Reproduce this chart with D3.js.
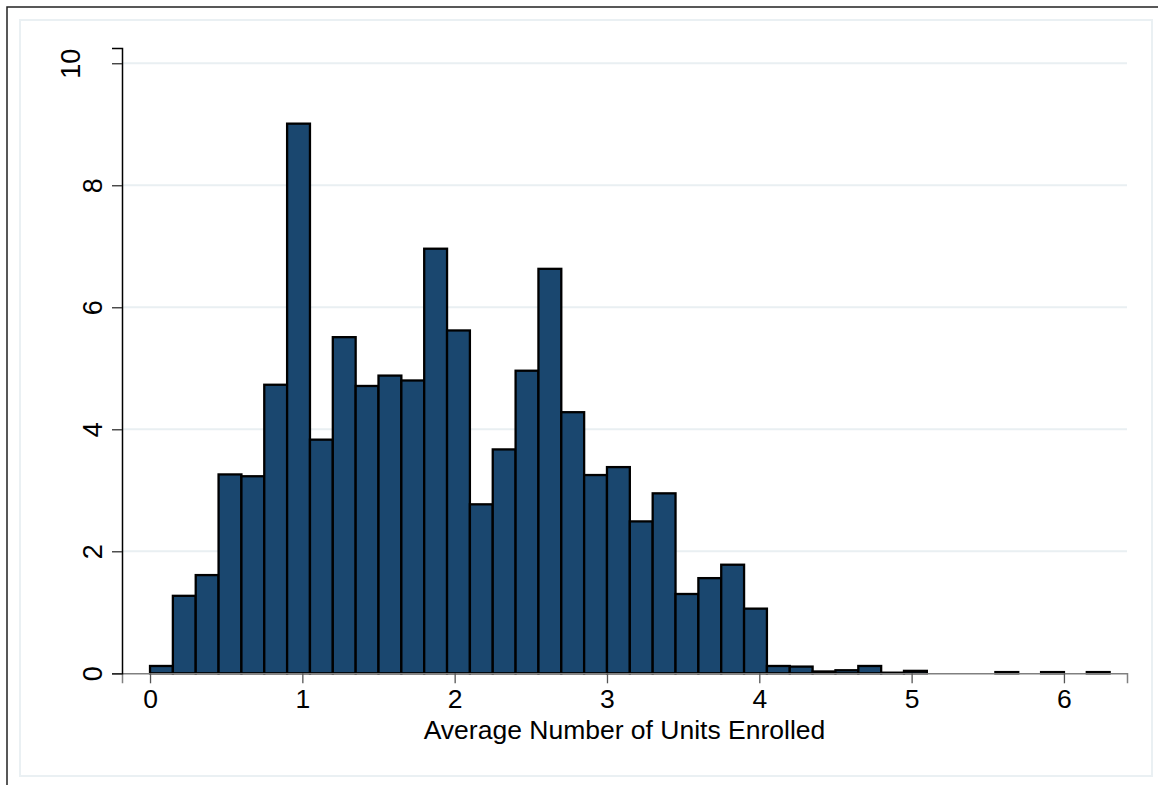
<!DOCTYPE html>
<html lang="en">
<head>
  <meta charset="UTF-8">
  <title>Average Number of Units Enrolled</title>
  <script src="https://cdn.jsdelivr.net/npm/d3@7"></script>
  <style>
    body { margin: 0; background: #fff; }
    text { font-family: "Liberation Sans", Arial, sans-serif; fill: #000; }
  </style>
</head>
<body>
  <div id="grafica"></div>

  <script>
    // histogram: bins of width 0.15 starting at 0, heights are densities
    binStart = 0
    binWidth = 0.15
    density = [
      0.12, 1.27, 1.61, 3.26, 3.23, 4.73, 9.01, 3.83, 5.51, 4.71,
      4.88, 4.80, 6.96, 5.62, 2.77, 3.67, 4.96, 6.63, 4.28, 3.25,
      3.38, 2.49, 2.95, 1.30, 1.56, 1.78, 1.06, 0.12, 0.11, 0.03,
      0.05, 0.12, 0.01, 0.04, 0, 0, 0, 0.02, 0, 0.02,
      0, 0.02
    ]
    xTicks = [0, 1, 2, 3, 4, 5, 6]
    yTicks = [0, 2, 4, 6, 8, 10]
    xTitle = 'Average Number of Units Enrolled'

    ancho = 1158
    alto = 785

    svg = d3.select('#grafica')
      .append('svg')
      .attr('width', ancho)
      .attr('height', alto)

    // outer border (cut off at right / bottom like the screenshot)
    svg.append('rect')
      .attr('x', 7).attr('y', 7)
      .attr('width', ancho + 10).attr('height', alto + 10)
      .attr('fill', 'none').attr('stroke', '#222').attr('stroke-width', 1.5)

    // light inner frame
    svg.append('rect')
      .attr('x', 20).attr('y', 20)
      .attr('width', 1132).attr('height', 756)
      .attr('fill', 'none').attr('stroke', '#eaf0f3').attr('stroke-width', 2)

    x = d3.scaleLinear().domain([-0.184, 6.414]).range([122, 1127])
    y = d3.scaleLinear().domain([0, 10.25]).range([673.3, 48])

    // gridlines
    svg.append('g')
      .selectAll('line')
      .data(yTicks.filter(d => d > 0))
      .enter().append('line')
      .attr('x1', x.range()[0]).attr('x2', x.range()[1])
      .attr('y1', d => y(d)).attr('y2', d => y(d))
      .attr('stroke', '#e9eff2').attr('stroke-width', 2)

    bins = density.map(function(v, i) {
      return { x0: binStart + i * binWidth, x1: binStart + (i + 1) * binWidth, v: v }
    }).filter(d => d.v > 0)

    svg.append('g')
      .selectAll('rect')
      .data(bins)
      .enter().append('rect')
      .attr('x', d => x(d.x0))
      .attr('y', d => y(d.v))
      .attr('width', d => x(d.x1) - x(d.x0))
      .attr('height', d => y(0) - y(d.v))
      .attr('fill', '#1a476f')
      .attr('stroke', '#000')
      .attr('stroke-width', 2.3)

    // x axis
    xAxis = svg.append('g')
      .attr('transform', 'translate(0,' + y(0) + ')')
      .call(d3.axisBottom(x).tickValues(xTicks).tickFormat(d3.format('d'))
        .tickSizeOuter(0).tickSize(10).tickPadding(6))
    xAxis.select('.domain').attr('stroke', '#808080').attr('stroke-width', 1.5)
    xAxis.selectAll('.tick line').attr('stroke', '#555').attr('stroke-width', 1.3)
    xAxis.selectAll('.tick text').attr('font-size', 26.5).attr('fill', '#000')
      .attr('font-family', '"Liberation Sans", Arial, sans-serif')
    xAxis.raise()

    // y axis
    yAxis = svg.append('g')
      .attr('transform', 'translate(' + x.range()[0] + ',0)')
      .call(d3.axisLeft(y).tickValues(yTicks).tickFormat(d3.format('d'))
        .tickSizeOuter(0).tickSize(10))
    yAxis.select('.domain').attr('stroke', '#000').attr('stroke-width', 1.5)
    yAxis.selectAll('.tick line').attr('stroke', '#333').attr('stroke-width', 1.3)
    yAxis.selectAll('.tick text')
      .attr('font-size', 27).attr('fill', '#000')
      .attr('font-family', '"Liberation Sans", Arial, sans-serif')
      .attr('x', null).attr('dy', null)
      .attr('text-anchor', 'middle')
      .attr('transform', d => 'translate(' + (d === 10 ? -42 : -20) + ',0) rotate(-90)')

    // axis title
    svg.append('text')
      .attr('x', (x.range()[0] + x.range()[1]) / 2)
      .attr('y', 739)
      .attr('text-anchor', 'middle')
      .attr('font-size', 26.5)
      .text(xTitle)
  </script>
</body>
</html>
